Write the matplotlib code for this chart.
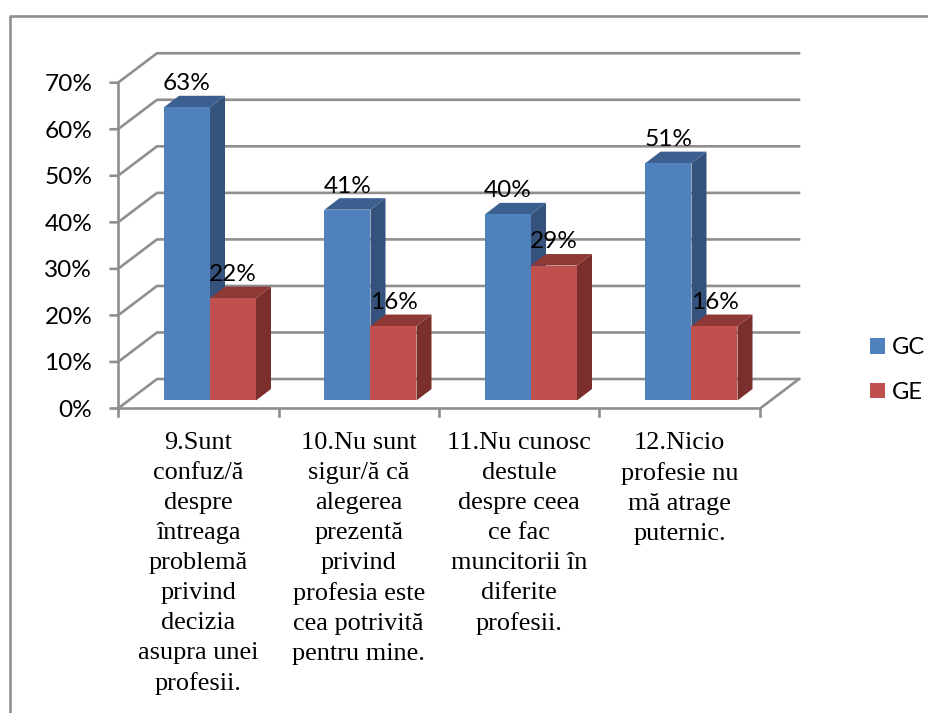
import matplotlib
matplotlib.use("Agg")
import matplotlib.pyplot as plt
from matplotlib.lines import Line2D
from matplotlib.patches import Patch, Polygon


categories = [
    "9.Sunt\nconfuz/ă\ndespre\nîntreaga\nproblemă\nprivind\ndecizia\nasupra unei\nprofesii.",
    "10.Nu sunt\nsigur/ă că\nalegerea\nprezentă\nprivind\nprofesia este\ncea potrivită\npentru mine.",
    "11.Nu cunosc\ndestule\ndespre ceea\nce fac\nmuncitorii în\ndiferite\nprofesii.",
    "12.Nicio\nprofesie nu\nmă atrage\nputernic.",
]
gc_values = [63, 41, 40, 51]
ge_values = [22, 16, 29, 16]
y_ticks = [0, 10, 20, 30, 40, 50, 60, 70]

W, H = 929, 713
GRID = "#8f8f8f"
LW = 1.9

# 3d look, in axis units (one category wide, percent high)
WALL_DX = 0.243
WALL_DY = 6.33
BAR_W = 0.2866
BAR_START = 0.2866
BAR_DY = 1.72
SIDE_DX = 0.0935
SIDE_DY = 2.47


def draw_bar(ax, x, value, front, side, top):
    y0 = BAR_DY
    y1 = BAR_DY + value
    x1 = x + BAR_W
    ax.add_patch(Polygon([(x1, y0), (x1 + SIDE_DX, y0 + SIDE_DY),
                          (x1 + SIDE_DX, y1 + SIDE_DY), (x1, y1)],
                         facecolor=side, edgecolor="none", zorder=3))
    ax.add_patch(Polygon([(x, y1), (x + SIDE_DX, y1 + SIDE_DY),
                          (x1 + SIDE_DX, y1 + SIDE_DY), (x1, y1)],
                         facecolor=top, edgecolor="none", zorder=3))
    ax.add_patch(Polygon([(x, y0), (x1, y0), (x1, y1), (x, y1)],
                         facecolor=front, edgecolor="none", zorder=3))


fig = plt.figure(figsize=(W / 100, H / 100), dpi=100, facecolor="white")

# frame around the picture
fig.add_artist(Line2D([10 / W, 10 / W, 1], [0, 1 - 16 / H, 1 - 16 / H],
                      color=GRID, lw=LW))

ax = fig.add_axes([118 / W, 1 - 408.5 / H, 642 / W, 325.8 / H])
ax.set_xlim(0, len(categories))
ax.set_ylim(0, 70)
ax.axis("off")

# walls and floor
n = len(categories)
for t in y_ticks:
    ax.plot([-0.045, 0, WALL_DX, n + WALL_DX], [t, t, t + WALL_DY, t + WALL_DY],
            color=GRID, lw=LW, clip_on=False, zorder=1)
ax.plot([0, 0], [0, 70], color=GRID, lw=LW, clip_on=False, zorder=1)
ax.plot([0, n, n + WALL_DX], [0, 0, WALL_DY], color=GRID, lw=LW,
        clip_on=False, zorder=1)
for i in range(n + 1):
    ax.plot([i, i], [0, -1.6], color=GRID, lw=LW, clip_on=False, zorder=1)

# bars, red goes on top of blue
for i in range(n):
    x = i + BAR_START
    draw_bar(ax, x, gc_values[i], "#4F81BD", "#34527C", "#3B6090")
    draw_bar(ax, x + BAR_W, ge_values[i], "#C0504D", "#7A2F2D", "#8F3936")
    ax.text(x + BAR_W / 2, gc_values[i] + 6.8, f"{gc_values[i]}%", ha="center",
            va="center", fontsize=17.6, family="Lato", zorder=5, clip_on=False)
    ax.text(x + BAR_W * 1.5, ge_values[i] + 6.8, f"{ge_values[i]}%", ha="center",
            va="center", fontsize=17.6, family="Lato", zorder=5, clip_on=False)
    ax.text(i + 0.5, -5, categories[i], ha="center", va="top", fontsize=18.9,
            family="Liberation Serif", linespacing=1.47, clip_on=False)

for t in y_ticks:
    ax.text(-0.16, t - 0.4, f"{t}%", ha="right", va="center", fontsize=17.6,
            family="Lato", clip_on=False)

handles = [Patch(facecolor="#4F81BD", label="GC"),
           Patch(facecolor="#C0504D", label="GE")]
fig.legend(handles=handles, loc="center left",
           bbox_to_anchor=(849 / W, 1 - 370 / H), frameon=False,
           prop={"family": "Lato", "size": 17}, handlelength=0.62,
           handleheight=0.62, handletextpad=0.3, labelspacing=0.98)

fig.savefig("out.png", dpi=100)
